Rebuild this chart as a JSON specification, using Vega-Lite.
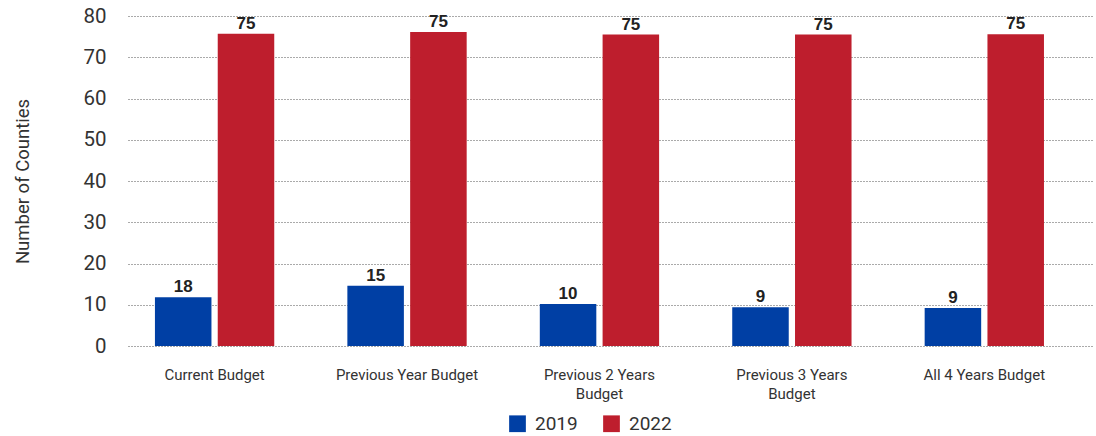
{
  "$schema": "https://vega.github.io/schema/vega-lite/v6.json",
  "width": 1096,
  "height": 436,
  "autosize": {"type": "fit", "contains": "padding"},
  "padding": {"left": 13, "top": 6, "right": 2, "bottom": 35},
  "config": {"font": "Roboto", "view": {"stroke": null}},
  "data": {
    "values": [
      {"category": "Current Budget", "year": "2019", "value": 11.8, "label": "18"},
      {"category": "Current Budget", "year": "2022", "value": 75.7, "label": "75"},
      {"category": "Previous Year Budget", "year": "2019", "value": 14.6, "label": "15"},
      {"category": "Previous Year Budget", "year": "2022", "value": 76.1, "label": "75"},
      {"category": "Previous 2 Years Budget", "year": "2019", "value": 10.2, "label": "10"},
      {"category": "Previous 2 Years Budget", "year": "2022", "value": 75.5, "label": "75"},
      {"category": "Previous 3 Years Budget", "year": "2019", "value": 9.4, "label": "9"},
      {"category": "Previous 3 Years Budget", "year": "2022", "value": 75.5, "label": "75"},
      {"category": "All 4 Years Budget", "year": "2019", "value": 9.2, "label": "9"},
      {"category": "All 4 Years Budget", "year": "2022", "value": 75.6, "label": "75"}
    ]
  },
  "encoding": {
    "x": {
      "field": "category",
      "type": "nominal",
      "sort": ["Current Budget", "Previous Year Budget", "Previous 2 Years Budget", "Previous 3 Years Budget", "All 4 Years Budget"],
      "scale": {"paddingInner": 0.38, "paddingOuter": 0.2, "align": 0.35},
      "axis": {
        "title": null,
        "labelAngle": 0,
        "domain": false,
        "ticks": false,
        "labelFontSize": 15,
        "labelColor": "#333333",
        "labelPadding": 21,
        "labelLineHeight": 19,
        "labelExpr": "datum.value == 'Previous 2 Years Budget' ? ['Previous 2 Years', 'Budget'] : datum.value == 'Previous 3 Years Budget' ? ['Previous 3 Years', 'Budget'] : datum.value"
      }
    },
    "xOffset": {"field": "year", "type": "nominal", "scale": {"paddingInner": 0.1}}
  },
  "layer": [
    {
      "mark": {"type": "bar"},
      "encoding": {
        "y": {
          "field": "value",
          "type": "quantitative",
          "scale": {"domain": [0, 80]},
          "axis": {
            "values": [0, 10, 20, 30, 40, 50, 60, 70, 80],
            "domain": false,
            "ticks": false,
            "grid": true,
            "gridDash": [1, 2],
            "gridColor": "#555555",
            "gridWidth": 1,
            "labelFontSize": 20.5,
            "labelColor": "#333333",
            "labelPadding": 22,
            "title": "Number of Counties",
            "titleFontSize": 18.5,
            "titleFontWeight": "normal",
            "titleColor": "#333333",
            "titlePadding": 50
          }
        },
        "color": {
          "field": "year",
          "type": "nominal",
          "scale": {"domain": ["2019", "2022"], "range": ["#003FA4", "#BE1E2D"]},
          "legend": {
            "title": null,
            "orient": "none",
            "legendX": 380,
            "legendY": 398,
            "direction": "horizontal",
            "symbolType": "square",
            "symbolSize": 280,
            "symbolStrokeWidth": 0,
            "labelFontSize": 19,
            "labelColor": "#333333",
            "columnPadding": 24,
            "labelOffset": 8
          }
        }
      }
    },
    {
      "mark": {"type": "text", "baseline": "bottom", "dy": -1, "fontWeight": "bold", "fontSize": 17, "color": "#222222", "font": "Liberation Sans"},
      "encoding": {
        "y": {"field": "value", "type": "quantitative"},
        "text": {"field": "label"}
      }
    }
  ]
}
